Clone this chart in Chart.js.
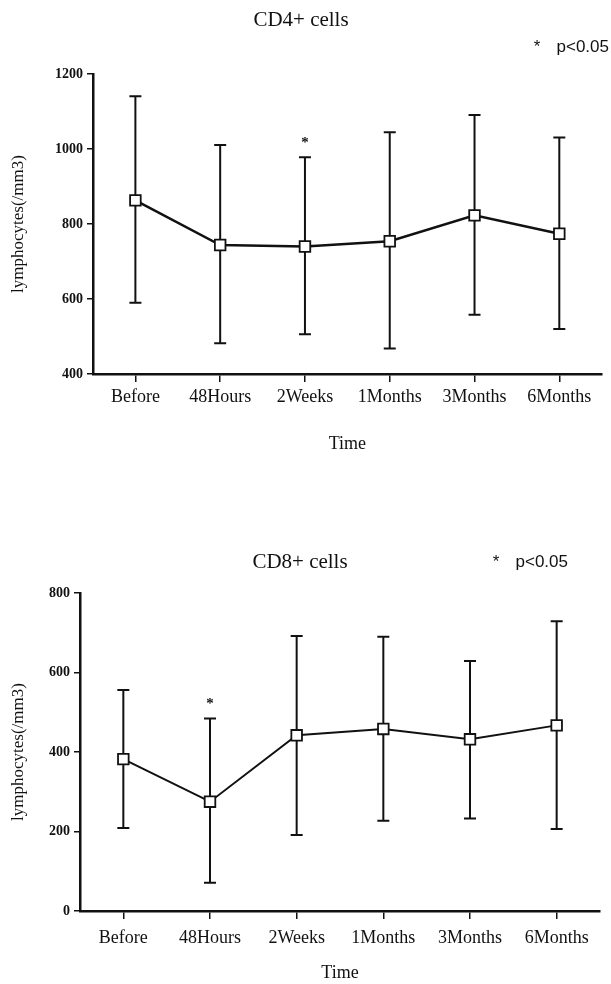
<!DOCTYPE html>
<html>
<head>
<meta charset="utf-8">
<script src="https://cdn.jsdelivr.net/npm/chart.js@4.4.1/dist/chart.umd.min.js"></script>
<style>
  html, body { margin: 0; padding: 0; background: #fff; }
  body { width: 611px; height: 984px; position: relative; overflow: hidden; }
  .box { position: absolute; left: 0; width: 611px; }
  #b1 { top: 0; height: 480px; }
  #b2 { top: 480px; height: 504px; }
</style>
</head>
<body>
<div class="box" id="b1"><canvas id="c1" width="611" height="480"></canvas></div>
<div class="box" id="b2"><canvas id="c2" width="611" height="504"></canvas></div>
<script>
// ---- data ----
const categories = ['Before', '48Hours', '2Weeks', '1Months', '3Months', '6Months'];

const cd4Mean = [863, 744, 740, 754, 823, 774];
const cd4Low  = [590, 482, 506, 468, 558, 520];
const cd4High = [1141, 1011, 978, 1045, 1091, 1031];
const cd4Significant = [2];           // index with "*"
const cd4YTicks = [400, 600, 800, 1000, 1200];

const cd8Mean = [382, 275, 442, 458, 432, 467];
const cd8Low  = [209, 71, 191, 227, 233, 206];
const cd8High = [556, 484, 692, 690, 629, 729];
const cd8Significant = [1];
const cd8YTicks = [0, 200, 400, 600, 800];

const titles = ['CD4+ cells', 'CD8+ cells'];
const yTitle = 'lymphocytes(/mm3)';
const xTitle = 'Time';
const pStar = '*';
const pNote = 'p<0.05';

// ---- helpers ----
const SERIF = "'Liberation Serif', 'Times New Roman', serif";
const SANS = "'Liberation Sans', Arial, sans-serif";
const INK = '#111';

const errorBarPlugin = {
  id: 'errorBars',
  beforeDatasetsDraw(chart, args, opts) {
    const {ctx, scales: {x, y}} = chart;
    ctx.save();
    ctx.strokeStyle = INK;
    ctx.lineWidth = 2;
    opts.low.forEach((lo, i) => {
      const px = x.getPixelForValue(i);
      const pLo = y.getPixelForValue(lo);
      const pHi = y.getPixelForValue(opts.high[i]);
      ctx.beginPath();
      ctx.moveTo(px, pLo); ctx.lineTo(px, pHi);
      ctx.moveTo(px - 6, pLo); ctx.lineTo(px + 6, pLo);
      ctx.moveTo(px - 6, pHi); ctx.lineTo(px + 6, pHi);
      ctx.stroke();
    });
    // significance asterisks above the upper whisker
    ctx.fillStyle = INK;
    ctx.font = 'bold 15px ' + SERIF;
    ctx.textAlign = 'center';
    ctx.textBaseline = 'middle';
    opts.sig.forEach(i => {
      const px = x.getPixelForValue(i);
      const pHi = y.getPixelForValue(opts.high[i]);
      ctx.fillText('*', px, pHi - 14);
    });
    ctx.restore();
  },
  afterDraw(chart, args, opts) {
    const {ctx} = chart;
    ctx.save();
    ctx.fillStyle = INK;
    ctx.font = '17px ' + SANS;
    ctx.textBaseline = 'middle';
    ctx.textAlign = 'right';
    ctx.fillText(pNote, opts.noteX, opts.noteY);
    ctx.textAlign = 'center';
    ctx.fillText(pStar, opts.noteX - 72, opts.noteY);
    ctx.restore();
  }
};

function makeChart(canvasId, title, mean, low, high, sig, yTicks, L) {
  return new Chart(document.getElementById(canvasId), {
    type: 'line',
    data: {
      labels: categories,
      datasets: [{
        data: mean,
        borderColor: INK,
        borderWidth: L.lineW,
        pointStyle: 'rect',
        pointRadius: 7.5,
        pointBorderWidth: 1.8,
        pointBackgroundColor: '#fff',
        pointBorderColor: INK,
        tension: 0,
        fill: false
      }]
    },
    options: {
      responsive: false,
      animation: false,
      devicePixelRatio: 1,
      layout: { padding: { left: L.padLeft, right: L.padRight, top: 0, bottom: L.padBottom } },
      plugins: {
        legend: { display: false },
        tooltip: { enabled: false },
        title: {
          display: true,
          text: title,
          color: INK,
          font: { family: SERIF, size: 21, weight: 'normal' },
          padding: { top: L.titleTop, bottom: L.titleBottom }
        },
        errorBars: { low, high, sig, noteX: L.noteX, noteY: L.noteY }
      },
      scales: {
        x: {
          type: 'category',
          offset: true,
          grid: { display: true, drawOnChartArea: false, drawTicks: true, tickLength: 8, offset: false, color: INK, lineWidth: 1.5 },
          border: { display: true, color: INK, width: 2.5 },
          ticks: { color: INK, padding: L.xTickPad, maxRotation: 0, autoSkip: false, font: { family: SERIF, size: 18 } },
          title: { display: true, text: xTitle, color: INK, font: { family: SERIF, size: 18 }, padding: { top: 0, bottom: L.xTitlePad } },
          afterFit(s) { s.height = L.xAxisH; }
        },
        y: {
          min: yTicks[0],
          max: yTicks[yTicks.length - 1],
          afterBuildTicks(s) { s.ticks = yTicks.map(v => ({ value: v })); },
          grid: { display: true, drawOnChartArea: false, drawTicks: true, tickLength: 6, color: INK, lineWidth: 1.5 },
          border: { display: true, color: INK, width: 2.5 },
          ticks: { color: INK, padding: 4, font: { family: SERIF, size: 14, weight: 'bold' }, callback: v => String(v) },
          title: { display: true, text: yTitle, color: INK, font: { family: SERIF, size: 17 }, padding: { top: 8, bottom: 0 } },
          afterFit(s) { s.width = L.yAxisW; }
        }
      }
    },
    plugins: [errorBarPlugin]
  });
}

makeChart('c1', titles[0], cd4Mean, cd4Low, cd4High, cd4Significant, cd4YTicks, {
  lineW: 2.5, padLeft: 0, padRight: 9, padBottom: 20, titleTop: 7.4, titleBottom: 41.4,
  xAxisH: 86, xTickPad: 4, xTitlePad: 5, yAxisW: 93, noteX: 609, noteY: 47
});
makeChart('c2', titles[1], cd8Mean, cd8Low, cd8High, cd8Significant, cd8YTicks, {
  lineW: 2, padLeft: 0, padRight: 11, padBottom: 0, titleTop: 69.4, titleBottom: 18.4,
  xAxisH: 73, xTickPad: 8, xTitlePad: 0, yAxisW: 80, noteX: 568, noteY: 82
});
</script>
</body>
</html>
